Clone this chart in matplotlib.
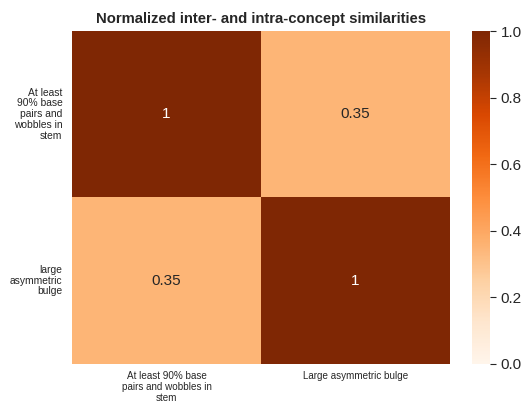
import matplotlib
matplotlib.use("Agg")
import matplotlib.pyplot as plt
import numpy as np
import seaborn as sns

row_labels = ["At least\n90% base\npairs and\nwobbles in\nstem", "large\nasymmetric\nbulge"]
col_labels = ["At least 90% base\npairs and wobbles in\nstem", "Large asymmetric bulge"]
similarity = [[1.0, 0.35],
              [0.35, 1.0]]

sns.set_style("white")
plt.rcParams["font.family"] = ["Liberation Sans", "DejaVu Sans"]

fig = plt.figure(figsize=(5.22, 4.03), dpi=100)
ax = fig.add_axes([0.138, 0.097, 0.724, 0.826])
cax = fig.add_axes([0.904, 0.097, 0.035, 0.826])

sns.heatmap(np.array(similarity), ax=ax, cbar_ax=cax, cmap="Oranges", vmin=0, vmax=1,
            annot=True, annot_kws={"fontsize": 11},
            xticklabels=col_labels, yticklabels=row_labels)

ax.set_title("Normalized inter- and intra-concept similarities", fontsize=10.7,
             fontweight="bold", color="#262626", pad=6)
ax.tick_params(axis="x", labelsize=7.1, length=0, colors="#262626", pad=5)
ax.tick_params(axis="y", labelsize=7.4, length=0, colors="#262626", pad=7)
plt.setp(ax.get_yticklabels(), rotation=0, ha="right", multialignment="right", linespacing=1.1)
plt.setp(ax.get_xticklabels(), rotation=0, ha="center", multialignment="center", linespacing=1.15)

cax.tick_params(labelsize=11, length=4, width=0.8, colors="#262626")
cax.yaxis.set_ticks([0.0, 0.2, 0.4, 0.6, 0.8, 1.0])

fig.savefig("out.png", dpi=100)
